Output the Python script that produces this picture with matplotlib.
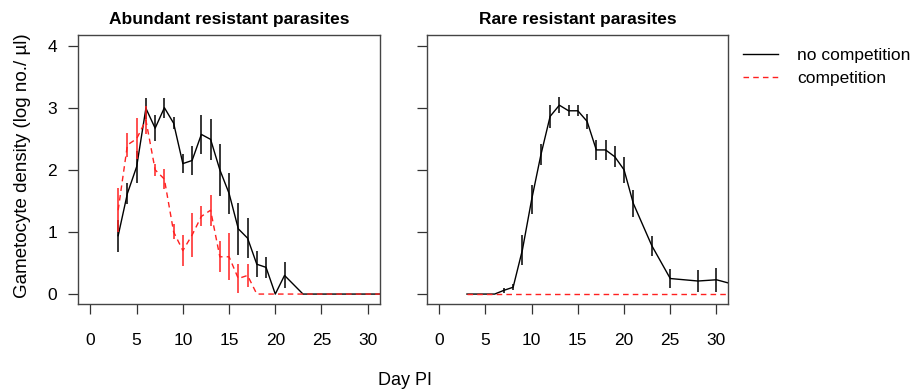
import matplotlib
matplotlib.use("Agg")
import matplotlib.pyplot as plt

plt.rcParams['font.family'] = ['Liberation Sans', 'DejaVu Sans']

# sampling days (day post infection)
days = [3, 4, 5, 6, 7, 8, 9, 10, 11, 12, 13, 14, 15, 16, 17, 18, 19, 20, 21,
        23, 25, 28, 30, 32]

# abundant resistant parasites
abund_nocomp = [0.94, 1.62, 2.05, 2.99, 2.67, 3.0, 2.75, 2.1, 2.15, 2.57, 2.49,
                2.0, 1.62, 1.05, 0.9, 0.48, 0.43, 0.0, 0.3,
                0.0, 0.0, 0.0, 0.0, 0.0]
abund_nocomp_err = [0.26, 0.17, 0.26, 0.17, 0.21, 0.16, 0.1, 0.15, 0.23, 0.32, 0.33,
                    0.42, 0.33, 0.42, 0.32, 0.21, 0.17, 0.0, 0.21,
                    0.0, 0.0, 0.0, 0.0, 0.0]
abund_comp = [1.35, 2.4, 2.5, 2.8, 2.0, 1.85, 1.0, 0.7, 0.95, 1.25, 1.35,
              0.6, 0.6, 0.25, 0.3, 0.0, 0.0, 0.0, 0.0,
              0.0, 0.0, 0.0, 0.0, 0.0]
abund_comp_err = [0.35, 0.2, 0.33, 0.22, 0.1, 0.16, 0.12, 0.25, 0.35, 0.16, 0.25,
                  0.25, 0.38, 0.24, 0.19, 0.0, 0.0, 0.0, 0.0,
                  0.0, 0.0, 0.0, 0.0, 0.0]

# rare resistant parasites
rare_nocomp = [0.0, 0.0, 0.0, 0.0, 0.06, 0.11, 0.71, 1.52, 2.24, 2.86, 3.04,
               2.95, 2.95, 2.78, 2.32, 2.32, 2.21, 2.0, 1.46,
               0.78, 0.25, 0.21, 0.23, 0.15]
rare_nocomp_err = [0.0, 0.0, 0.0, 0.0, 0.04, 0.05, 0.24, 0.23, 0.17, 0.18, 0.13,
                   0.09, 0.09, 0.12, 0.16, 0.16, 0.17, 0.21, 0.22,
                   0.16, 0.15, 0.17, 0.19, 0.0]
rare_comp = [0.0] * len(days)
rare_comp_err = [0.0] * len(days)

panels = [
    ("Abundant resistant parasites", abund_nocomp, abund_nocomp_err, abund_comp, abund_comp_err),
    ("Rare resistant parasites", rare_nocomp, rare_nocomp_err, rare_comp, rare_comp_err),
]

fig = plt.figure(figsize=(9.13, 3.91), dpi=100)
lefts = [0.0854, 0.4674]

for i, (title, nc, nc_err, c, c_err) in enumerate(panels):
    ax = fig.add_axes([lefts[i], 0.2225, 0.3305, 0.688])
    ax.plot(days, nc, color='black', lw=1.0, label='no competition')
    ax.vlines(days, [v - e for v, e in zip(nc, nc_err)], [v + e for v, e in zip(nc, nc_err)],
              color='black', lw=1.1)
    ax.plot(days, c, color='#ff2020', lw=1.0, ls=(0, (4, 3)), label='competition')
    ax.vlines(days, [v - e for v, e in zip(c, c_err)], [v + e for v, e in zip(c, c_err)],
              color='#ff2020', lw=1.1)
    ax.set_xlim(-1.35, 31.3)
    ax.set_ylim(-0.16, 4.17)
    ax.set_xticks([0, 5, 10, 15, 20, 25, 30])
    ax.set_yticks([0, 1, 2, 3, 4])
    ax.tick_params(direction='out', length=7, width=0.9, colors='#333333',
                   labelcolor='black', labelsize=12.5)
    ax.tick_params(axis='x', pad=14)
    ax.tick_params(axis='y', pad=8)
    for s in ax.spines.values():
        s.set_color('#444444')
        s.set_linewidth(1.0)
    if i == 1:
        ax.set_yticklabels([])
        leg_handles, leg_labels = ax.get_legend_handles_labels()
    ax.set_title(title, fontsize=12.5, fontweight='bold', pad=8)

fig.legend(leg_handles, leg_labels, loc='upper left', bbox_to_anchor=(0.797, 0.917),
           frameon=False, fontsize=12.5, handlelength=2.0, handletextpad=1.1,
           labelspacing=0.45)
fig.text(0.025, 0.575, "Gametocyte density (log no./ \u00b5l)", rotation=90,
         ha='center', va='center', fontsize=13.5)
fig.text(0.444, 0.027, "Day PI", ha='center', va='center', fontsize=13)

fig.savefig("out.png", dpi=100)
